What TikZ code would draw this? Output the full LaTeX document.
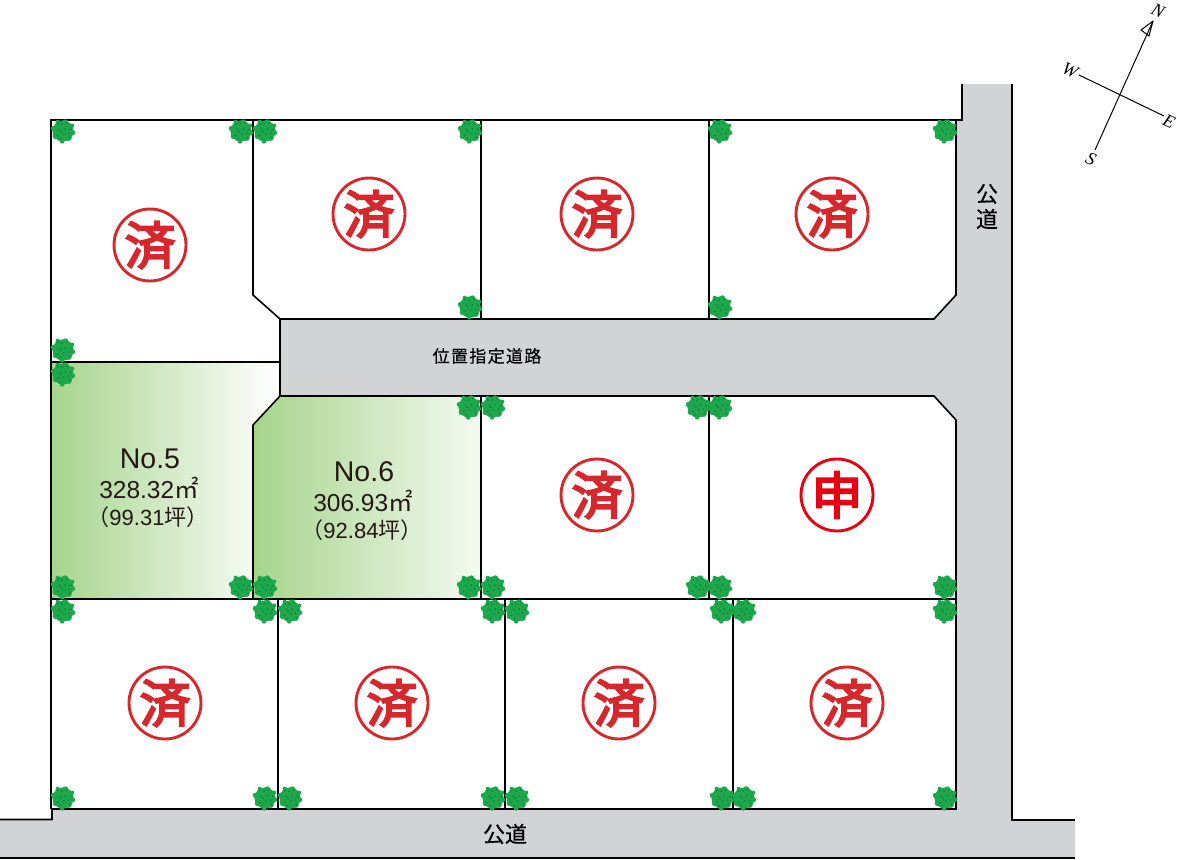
\documentclass[tikz,border=0pt]{standalone}
\usepackage{fontspec}
\setmainfont{Liberation Sans}
\newfontfamily\cjk{Noto Sans CJK JP}
\newfontfamily\cjkseal[FakeBold=4]{Noto Sans CJK JP}
\newfontfamily\cjkroad[FakeBold=0.4]{Noto Sans CJK JP}
\newfontfamily\cjkwide[LetterSpace=8,FakeBold=0.4]{Noto Sans CJK JP}
\newfontfamily\compassfont{Liberation Serif}
\definecolor{roadgray}{RGB}{209,211,212}
\definecolor{lotgreen}{RGB}{166,212,140}
\definecolor{bushgreen}{RGB}{30,168,76}
\definecolor{bushdark}{RGB}{18,125,70}
\definecolor{sealred}{RGB}{214,40,44}
\definecolor{applyred}{RGB}{230,0,18}
\definecolor{inkblack}{RGB}{35,24,21}
\tikzset{
	lotline/.style={line width=1.6pt,color=black},
	sealdone/.style={circle,draw=sealred,line width=2.9pt,minimum size=72pt,inner sep=0pt,text=sealred,font=\cjkseal\fontsize{51}{51}\selectfont},
	sealapply/.style={sealdone,draw=applyred,text=applyred},
	lotname/.style={text=inkblack,inner sep=0pt,font=\fontsize{28.5}{28.5}\selectfont},
	lotarea/.style={text=inkblack,inner sep=0pt,font=\fontsize{24.5}{24.5}\selectfont},
	lottsubo/.style={text=inkblack,inner sep=0pt,font=\fontsize{22}{22}\selectfont},
	roadname/.style={text=black,inner sep=0pt,font=\cjkroad\fontsize{22}{22}\selectfont},
	compassletter/.style={inner sep=0pt,font=\compassfont\itshape\fontsize{18}{18}\selectfont},
	bush/.pic={
		\fill[bushgreen] (0,0) circle (10.6);
		\foreach \a/\r/\s in {10/10/2.4,50/9/3,95/10.5/2.2,145/9/3,195/10/2.6,240/10.5/2.2,285/9/3,330/10.5/2.2}{
			\fill[bushgreen] ({\r*cos(\a)},{\r*sin(\a)}) circle (\s);
		}
		\foreach \a/\r in {20/6,75/3,140/7,205/4,262/7,320/3,350/8,110/8,235/9,170/2,45/9,295/9}{
			\fill[bushdark] ({\r*cos(\a)},{\r*sin(\a)}) circle (0.9);
		}
	}
}

\begin{document}
\begin{tikzpicture}[x=1pt,y=-1pt]
\useasboundingbox (0,0) rectangle (1177,859);

% roads
\fill[roadgray] (962,84)--(1012,84)--(1012,820)--(1075,820)--(1075,857)--(0,857)--(0,820)--(52,820)--(52,809)--(956,809)--(956,420)--(934,396)--(281,396)--(281,319)--(934,319)--(956,295)--(956,120)--(962,120)--cycle;

% green lots
\shade[left color=lotgreen,right color=white] (51,362)--(280,362)--(280,396)--(253,425)--(253,599)--(51,599)--cycle;
\shade[left color=lotgreen,right color=lotgreen!12!white] (280,396)--(481,396)--(481,599)--(253,599)--(253,425)--cycle;

% lot lines
\draw[lotline] (51,809)--(51,120)--(962,120)--(962,84);
\draw[lotline] (1012,84)--(1012,820)--(1075,820);
\draw[lotline] (0,819.5)--(52,819.5)--(52,809)--(956,809)--(956,420)--(934,396)--(281,396);
\draw[lotline] (253,120)--(253,295)--(280,319)--(280,396)--(253,425)--(253,599);
\draw[lotline] (280,319)--(934,319)--(956,295)--(956,120);
\draw[lotline] (51,362)--(280,362);
\draw[lotline] (51,599)--(956,599);
\foreach \x in {481,709}{
	\draw[lotline] (\x,120)--(\x,319);
	\draw[lotline] (\x,396)--(\x,599);
}
\foreach \x in {278,505,733}{
	\draw[lotline] (\x,599)--(\x,809);
}
\draw[line width=2pt] (0,858)--(1075,858);

% bushes
\foreach \x/\y in {63/131,241/131,265/131,470/131,720/131,945/131,
	470/307,720/307,63/350,63/374,
	469/407,493/407,698/407,720/407,
	63/587,241/587,265/587,469/587,493/587,698/587,720/587,945/587,
	63/611,265/611,290/611,493/611,517/611,722/611,744/611,945/611,
	63/798,265/798,290/798,493/798,517/798,722/798,744/798,945/798}{
	\pic at (\x,\y) {bush};
}

% seals
\node[sealdone] (lotA) at (150,245) {済};
\node[sealdone] (lotB) at (369,214) {済};
\node[sealdone] (lotC) at (597,214) {済};
\node[sealdone] (lotD) at (832,214) {済};
\node[sealdone] (lotG) at (597,495) {済};
\node[sealapply] (lotH) at (837,495) {申};
\node[sealdone] (lotI) at (165,703) {済};
\node[sealdone] (lotJ) at (392,703) {済};
\node[sealdone] (lotK) at (619,703) {済};
\node[sealdone] (lotL) at (847,703) {済};

% green lot labels
\node[lotname] (nameE) at (150,459) {No.5};
\node[lotarea] (areaE) at (149,488) {328.32{\cjk ㎡}};
\node[lottsubo] (tsuboE) at (148,517) {\cjk（\rmfamily 99.31\cjk 坪）};
\node[lotname] (nameF) at (364,472) {No.6};
\node[lotarea] (areaF) at (363,501) {306.93{\cjk ㎡}};
\node[lottsubo] (tsuboF) at (362,530) {\cjk（\rmfamily 92.84\cjk 坪）};

% road names
\node[roadname] (roadE1) at (987,194) {公};
\node[roadname] (roadE2) at (987,219) {道};
\node[roadname] (roadS) at (505,834) {公道};
\node[inner sep=0pt,font=\cjkwide\fontsize{17}{17}\selectfont] (roadM) at (487,356) {位置指定道路};

% compass
\coordinate (north) at (1153,21);
\coordinate (south) at (1095,150);
\coordinate (west) at (1079,75);
\coordinate (east) at (1164,116);
\draw[line width=1pt] (south)--(north);
\draw[line width=1pt] (west)--(east);
\draw[line width=1pt] (north)--(1141,30)--(1149,36)--(north);
\node[compassletter,rotate=-25] (letterN) at (1158,11) {N};
\node[compassletter,rotate=-25] (letterW) at (1070,70) {W};
\node[compassletter,rotate=-25] (letterE) at (1169,121) {E};
\node[compassletter,rotate=-25] (letterS) at (1091,159) {S};

\end{tikzpicture}
\end{document}
